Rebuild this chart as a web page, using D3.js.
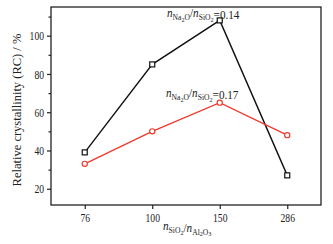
<!DOCTYPE html>
<html>
<head>
<meta charset="utf-8">
<script src="https://cdn.jsdelivr.net/npm/d3@7"></script>
<style>
  body { margin: 0; background: #fff; }
  text { font-family: "Liberation Serif", "Times New Roman", serif; fill: #222; }
</style>
</head>
<body>
<div id="chart"></div>
<script>
var categories = ["76", "100", "150", "286"];
var rc014 = [39, 85, 108, 27];   // n(Na2O)/n(SiO2) = 0.14
var rc017 = [33, 50, 65, 48];    // n(Na2O)/n(SiO2) = 0.17
var yMajor = [20, 40, 60, 80, 100];
var yMinor = [30, 50, 70, 90, 110];

var W = 333, H = 244;
var margin = {top: 7, right: 12, bottom: 39, left: 51},
	width = W - margin.left - margin.right,
	height = H - margin.top - margin.bottom;

var svg = d3.select("#chart")
	.append("svg")
	.attr("width", W)
	.attr("height", H);

var g = svg.append("g")
	.attr("transform", "translate(" + margin.left + "," + margin.top + ")");

var x = d3.scalePoint()
	.domain(categories)
	.range([0, width])
	.padding(0.5);

var y = d3.scaleLinear()
	.domain([11.5, 115])
	.range([height, 0]);

// the picture is squeezed sideways, so the text is too
var sx = 0.74;

// frame
g.append("rect")
	.attr("width", width)
	.attr("height", height)
	.attr("fill", "none")
	.attr("stroke", "#222")
	.attr("stroke-width", 1.3);

// y axis
var yAxis = g.append("g")
	.call(d3.axisLeft(y).tickValues(yMajor).tickSize(4));
yAxis.select(".domain").remove();
yAxis.selectAll("line").attr("stroke", "#222").attr("stroke-width", 1.2);
yAxis.selectAll("text")
	.style("font-size", "13px")
	.attr("transform", "scale(" + sx + ",1)")
	.attr("x", -7 / sx);

var yAxisMinor = g.append("g")
	.call(d3.axisLeft(y).tickValues(yMinor).tickSize(2.5).tickFormat(""));
yAxisMinor.select(".domain").remove();
yAxisMinor.selectAll("line").attr("stroke", "#222").attr("stroke-width", 1.2);

// x axis
var xAxis = g.append("g")
	.attr("transform", "translate(0," + height + ")")
	.call(d3.axisBottom(x).tickSize(4).tickPadding(4));
xAxis.select(".domain").remove();
xAxis.selectAll("line").attr("stroke", "#222").attr("stroke-width", 1.2);
xAxis.selectAll("text")
	.style("font-size", "13px")
	.attr("transform", "scale(" + sx + ",1)");

// lines
var line = d3.line()
	.x(function(d, i) { return x(categories[i]); })
	.y(function(d) { return y(d); });

g.append("path")
	.attr("d", line(rc014))
	.attr("fill", "none")
	.attr("stroke", "#111")
	.attr("stroke-width", 1.4);

g.append("path")
	.attr("d", line(rc017))
	.attr("fill", "none")
	.attr("stroke", "#f03a2e")
	.attr("stroke-width", 1.4);

// markers
g.selectAll(".sq")
	.data(rc014)
	.enter()
	.append("rect")
	.attr("class", "sq")
	.attr("x", function(d, i) { return x(categories[i]) - 2.5; })
	.attr("y", function(d) { return y(d) - 2.5; })
	.attr("width", 5)
	.attr("height", 5)
	.attr("fill", "#fff")
	.attr("stroke", "#111")
	.attr("stroke-width", 1.2);

g.selectAll(".ci")
	.data(rc017)
	.enter()
	.append("circle")
	.attr("class", "ci")
	.attr("cx", function(d, i) { return x(categories[i]); })
	.attr("cy", function(d) { return y(d); })
	.attr("r", 2.6)
	.attr("fill", "#fff")
	.attr("stroke", "#f03a2e")
	.attr("stroke-width", 1.2);

// ratio label helper: n_A / n_B (=value)
function ratio(sel, a, b, tail, fs) {
	var s1 = fs * 0.68, s2 = fs * 0.55;
	var t = sel.append("text").style("font-size", fs + "px");
	t.append("tspan").style("font-style", "italic").text("n");
	t.append("tspan").attr("dy", 3).style("font-size", s1 + "px").text(a[0]);
	t.append("tspan").attr("dy", 1.5).style("font-size", s2 + "px").text(a[1]);
	t.append("tspan").attr("dy", -1.5).style("font-size", s1 + "px").text(a[2]);
	t.append("tspan").attr("dy", -3).text("/");
	t.append("tspan").style("font-style", "italic").text("n");
	t.append("tspan").attr("dy", 3).style("font-size", s1 + "px").text(b[0]);
	t.append("tspan").attr("dy", 1.5).style("font-size", s2 + "px").text(b[1]);
	t.append("tspan").attr("dy", -1.5).style("font-size", s1 + "px").text(b[2]);
	if (tail) t.append("tspan").attr("dy", -3).text(tail);
	return t;
}

// series labels
ratio(svg.append("g").attr("transform", "translate(167,17) scale(0.86,1)"),
	["Na", "2", "O"], ["SiO", "2", ""], "=0.14", 13);
ratio(svg.append("g").attr("transform", "translate(166,97) scale(0.86,1)"),
	["Na", "2", "O"], ["SiO", "2", ""], "=0.17", 13);

// x title
ratio(svg.append("g").attr("transform", "translate(163,230) scale(0.86,1)"),
	["SiO", "2", ""], ["Al", "2", "O"], "", 13)
	.append("tspan").attr("dy", 1.5).style("font-size", (13 * 0.55) + "px").text("3");

// y title
svg.append("text")
	.attr("transform", "translate(21," + (margin.top + height / 2 + 4) + ") rotate(-90)")
	.attr("text-anchor", "middle")
	.style("font-size", "12.5px")
	.text("Relative crystallinity (RC) / %");
</script>
</body>
</html>
